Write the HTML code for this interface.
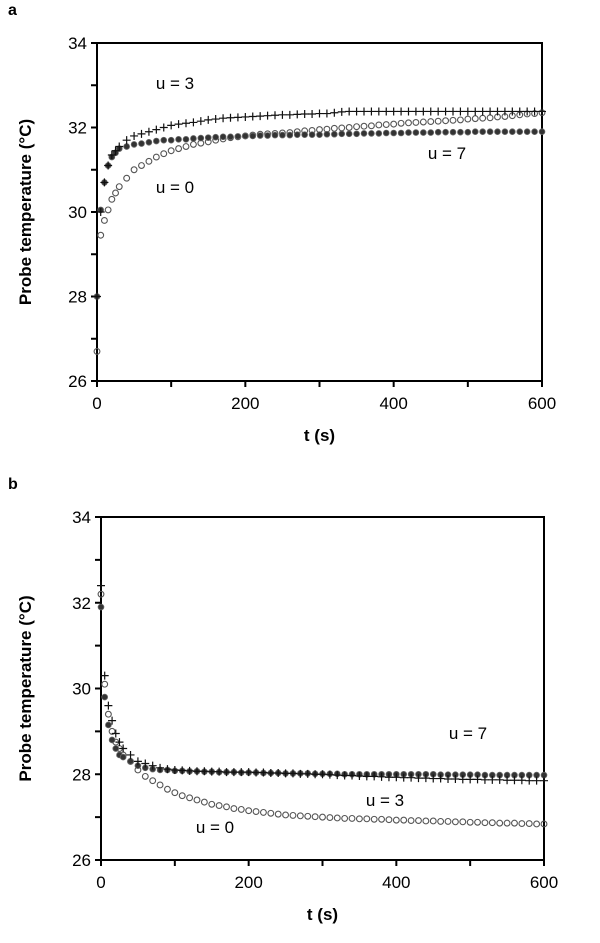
<!DOCTYPE html>
<html><head><meta charset="utf-8"><style>
body{margin:0;background:#fff;}
svg{display:block;font-family:"Liberation Sans",Arial,sans-serif;}
</style></head><body>
<svg id="chart" width="600" height="943" viewBox="0 0 600 943"></svg>
<script>
const times=[0,5,10,15,20,25,30,40,50,60,70,80,90,100,110,120,130,140,150,160,170,180,190,200,210,220,230,240,250,260,270,280,290,300,310,320,330,340,350,360,370,380,390,400,410,420,430,440,450,460,470,480,490,500,510,520,530,540,550,560,570,580,590,600];
const xTicks=[0,200,400,600];
const yTicks=[26,28,30,32,34];
const aU3=[28.0,30.0,30.7,31.1,31.35,31.45,31.55,31.7,31.8,31.85,31.9,31.95,32.0,32.05,32.08,32.1,32.12,32.15,32.18,32.2,32.22,32.23,32.24,32.25,32.26,32.27,32.28,32.29,32.3,32.3,32.31,32.32,32.32,32.33,32.33,32.35,32.37,32.38,32.38,32.38,32.38,32.38,32.38,32.38,32.38,32.38,32.38,32.38,32.38,32.38,32.38,32.38,32.38,32.38,32.38,32.38,32.38,32.38,32.38,32.38,32.38,32.38,32.38,32.38];
const aU7=[28.0,30.05,30.7,31.1,31.3,31.4,31.5,31.55,31.6,31.62,31.65,31.68,31.7,31.7,31.72,31.72,31.74,31.75,31.76,31.77,31.78,31.78,31.79,31.8,31.8,31.81,31.81,31.82,31.82,31.82,31.83,31.83,31.83,31.83,31.84,31.84,31.85,31.85,31.85,31.86,31.86,31.86,31.87,31.87,31.87,31.88,31.88,31.88,31.88,31.89,31.89,31.89,31.89,31.89,31.9,31.9,31.9,31.9,31.9,31.9,31.9,31.9,31.9,31.9];
const aU0=[26.7,29.45,29.8,30.05,30.3,30.45,30.6,30.8,31.0,31.1,31.2,31.3,31.38,31.45,31.5,31.55,31.6,31.63,31.66,31.7,31.73,31.76,31.78,31.8,31.82,31.84,31.85,31.86,31.87,31.88,31.9,31.92,31.93,31.95,31.96,31.98,31.99,32.0,32.02,32.03,32.04,32.06,32.07,32.08,32.1,32.11,32.12,32.13,32.14,32.15,32.16,32.17,32.18,32.2,32.21,32.22,32.23,32.25,32.26,32.28,32.3,32.32,32.33,32.35];
const bU3=[32.4,30.3,29.6,29.25,28.95,28.75,28.6,28.45,28.3,28.25,28.2,28.15,28.12,28.1,28.09,28.08,28.07,28.07,28.06,28.06,28.05,28.05,28.05,28.05,28.04,28.04,28.03,28.03,28.02,28.02,28.01,28.01,28.0,28.0,27.99,27.98,27.97,27.97,27.96,27.95,27.95,27.94,27.93,27.93,27.92,27.92,27.91,27.91,27.9,27.9,27.89,27.89,27.88,27.88,27.88,27.87,27.87,27.87,27.86,27.86,27.86,27.85,27.85,27.85];
const bU7=[31.9,29.8,29.15,28.8,28.6,28.45,28.4,28.3,28.2,28.15,28.12,28.1,28.1,28.08,28.08,28.07,28.07,28.06,28.06,28.05,28.05,28.05,28.04,28.04,28.04,28.03,28.03,28.03,28.02,28.02,28.02,28.02,28.01,28.01,28.01,28.01,28.0,28.0,28.0,28.0,28.0,28.0,28.0,28.0,28.0,28.0,28.0,28.0,28.0,27.99,27.99,27.99,27.99,27.99,27.99,27.98,27.98,27.98,27.98,27.98,27.98,27.98,27.98,27.98];
const bU0=[32.2,30.1,29.4,29.0,28.75,28.6,28.45,28.3,28.1,27.95,27.85,27.75,27.65,27.57,27.5,27.45,27.4,27.35,27.3,27.27,27.24,27.2,27.18,27.15,27.13,27.11,27.09,27.07,27.05,27.04,27.03,27.02,27.01,27.0,26.99,26.98,26.97,26.97,26.96,26.96,26.95,26.95,26.94,26.93,26.93,26.92,26.92,26.91,26.91,26.9,26.9,26.89,26.89,26.88,26.88,26.87,26.87,26.86,26.86,26.86,26.85,26.85,26.84,26.84];

const svg=document.getElementById('chart');
const NS='http://www.w3.org/2000/svg';
function mk(tag,attrs,parent){const e=document.createElementNS(NS,tag);for(const k in attrs)e.setAttribute(k,attrs[k]);(parent||svg).appendChild(e);return e;}

function panel(p){
  const g=mk('g',{});
  
  
  const sx=t=>p.x0+(t-0)/600*(p.x1-p.x0);
  const sy=v=>p.y1-(v-26)/8*(p.y1-p.y0);
  const ax=mk('path',{d:`M${p.x0},${p.y0}H${p.x1}V${p.y1}H${p.x0}Z`,fill:'none',stroke:'#000','stroke-width':2},g);
  
  
  for(let v=26;v<=34;v+=1){
    const tk=mk('line',{x1:p.x0-6,x2:p.x0,y1:sy(v),y2:sy(v),stroke:'#000','stroke-width':2},g);
    
    
  }
  for(let t=0;t<=600;t+=100){
    const tk=mk('line',{x1:sx(t),x2:sx(t),y1:p.y1,y2:p.y1+6,stroke:'#000','stroke-width':2},g);
    
    
  }
  yTicks.forEach(v=>{
    const l=mk('text',{x:p.x0-10,y:sy(v)+6,'text-anchor':'end','font-size':17},g);
    l.textContent=v;
    
    
  });
  xTicks.forEach(t=>{
    const l=mk('text',{x:sx(t),y:p.y1+28,'text-anchor':'middle','font-size':17},g);
    l.textContent=t;
    
    
  });
  const yt=mk('text',{x:0,y:0,transform:`translate(31,${(p.y0+p.y1)/2}) rotate(-90)`,'text-anchor':'middle','font-size':17,'font-weight':'bold'},g);
  yt.textContent='Probe temperature (°C)';
  
  
  const xt=mk('text',{x:(p.x0+p.x1)/2,y:p.y1+60,'text-anchor':'middle','font-size':17,'font-weight':'bold'},g);
  xt.textContent='t (s)';
  
  
  const pl=mk('text',{x:8,y:p.y0-28,'font-size':16,'font-weight':'bold'},g);
  pl.textContent=p.letter;
  
  
  const s0=mk('g',{},g);
  
  
  p.u0.forEach((v,i)=>{
    const c=mk('circle',{cx:sx(times[i]),cy:sy(v),r:2.9,fill:'none',stroke:'#555','stroke-width':1.1},s0);
    
    
  });
  const s7=mk('g',{},g);
  
  
  p.u7.forEach((v,i)=>{
    const c=mk('circle',{cx:sx(times[i]),cy:sy(v),r:2.9,fill:'#333',stroke:'#666','stroke-width':0.8},s7);
    
    
  });
  const s3=mk('g',{},g);
  
  
  p.u3.forEach((v,i)=>{
    const x=sx(times[i]),y=sy(v);
    const c=mk('path',{d:`M${x-4},${y}H${x+4}M${x},${y-4}V${y+4}`,stroke:'#111','stroke-width':1.2},s3);
    
    
  });
  p.labels.forEach(L=>{
    const t=mk('text',{x:L[1],y:L[2],'font-size':17,'text-anchor':'middle'},g);
    t.textContent=L[0];
    
    
  });
}
panel({name:'panel-a',letter:'a',x0:97,x1:542,y0:43,y1:381,u0:aU0,u3:aU3,u7:aU7,
  labels:[['u = 3',175,89],['u = 7',447,159],['u = 0',175,193]]});
panel({name:'panel-b',letter:'b',x0:101,x1:544,y0:517,y1:860,u0:bU0,u3:bU3,u7:bU7,
  labels:[['u = 7',468,739],['u = 3',385,806],['u = 0',215,833]]});
</script>
</body></html>
